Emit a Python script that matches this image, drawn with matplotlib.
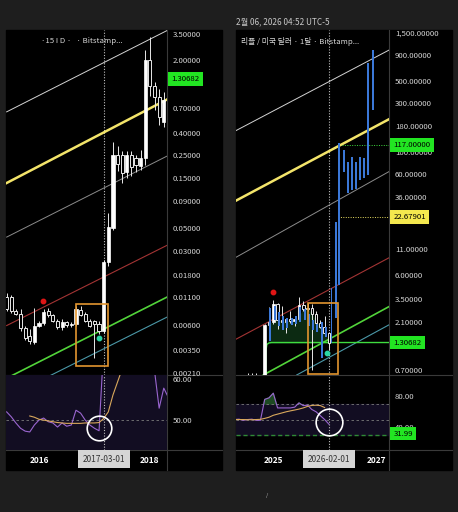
import numpy as np
import matplotlib
matplotlib.use("Agg")
import matplotlib.pyplot as plt
from matplotlib.patches import Rectangle
from matplotlib.transforms import blended_transform_factory as blend

plt.rcParams['font.family'] = ['Noto Sans CJK KR', 'DejaVu Sans']

# ---------------- left chart : monthly, months counted from 2016-01 ----------------
l_month = np.arange(-7, 28)
l_open = [.0112, .0110, .0082, .0077, .0056, .0047, .0041, .0059, .0063, .0082, .0074, .0066, .0057, .0064,
          .0060, .0061, .0084, .0077, .0066, .0065, .0062, .0053, .0236, .050, .246, .25, .17, .25, .23, .196,
          .23, 1.98, 1.12, .88, .51]
l_high = [.0120, .0115, .0086, .0086, .0059, .0055, .0088, .0066, .0086, .0088, .0077, .0068, .0068, .0066,
          .0064, .0090, .0090, .0079, .0068, .0067, .0066, .0250, .069, .33, .30, .27, .27, .27, .25, .275,
          2.46, 3.28, 1.23, 1.06, .98]
l_low = [.0082, .0078, .0074, .0053, .0043, .0040, .0040, .0057, .0060, .0071, .0064, .0055, .0054, .0058,
         .0058, .0059, .0073, .0064, .0057, .0029, .0049, .0050, .0220, .048, .175, .135, .15, .155, .17, .18,
         .20, .90, .66, .48, .46]
l_close = [.0085, .0082, .0077, .0056, .0045, .0042, .0059, .0063, .0079, .0074, .0066, .0057, .0064, .0060,
           .0062, .0086, .0075, .0066, .0059, .0062, .0053, .0236, .0508, .2465, .205, .168, .25, .19, .20, .23,
           1.98, 1.12, .88, .57, .82]

l_rsi_month = np.arange(-7, 29)
l_rsi = [52.0, 50.8, 49.3, 48.0, 47.3, 47.1, 48.8, 50.0, 50.5, 49.6, 49.3, 48.3, 49.3, 48.5, 48.8, 52.4, 51.7,
         50.0, 48.8, 48.0, 47.4, 68, 80, 92, 88, 85, 86, 84, 83, 85, 95, 85, 62, 52.9, 57.8, 55.5]
l_ma_month = np.arange(-2, 19)
l_ma = [51.0, 50.7, 50.2, 50.0, 49.8, 49.6, 49.4, 49.3, 49.2, 49.2, 49.2, 49.2, 49.3, 49.3, 49.3, 49.4, 50.4,
        52.0, 56.1, 59.3, 62.5]

l_ticks = [3.5, 2.0, 1.2, 0.7, 0.4, 0.25, 0.15, 0.09, 0.05, 0.03, 0.018, 0.011, 0.006, 0.0035, 0.0021]
l_last = 1.30682

# channel lines: months, values
l_lines = [([-7, 27.63], [0.637, 3.76], '#d4d4d4', 0.7),
           ([-7, 27.63], [0.1343, 0.832], '#f3e46a', 1.8),
           ([-7, 27.63], [0.0411, 0.241], '#8c8c8c', 0.7),
           ([-7, 27.63], [0.00593, 0.0342], '#a33434', 0.8),
           ([-5.91, 27.63], [0.00198, 0.01102], '#52d43a', 1.2),
           ([2.38, 27.63], [0.00198, 0.00711], '#4b98a8', 0.8)]
l_box = ([8.0, 15.0], [0.002465, 0.00953])
l_red_dot = (0.93, 0.0101)
l_teal_dot = (13.05, 0.00452)
l_circle = (13.05, 48.1)

# ---------------- right chart : months counted from 2025-01 ----------------
r_month = np.arange(-9, 14)
r_open = [.62, .50, .51, .47, .61, .56, .61, .50, 1.95, 2.08, 3.11, 2.20, 2.08, 2.21, 2.14, 2.24, 3.05, 2.78,
          2.85, 2.50, 2.05, 1.85, 1.62]
r_high = [.64, .58, .53, .66, .65, .66, .62, 1.98, 2.90, 3.40, 3.20, 3.00, 2.30, 2.65, 2.33, 3.66, 3.33, 3.18,
          3.10, 2.70, 2.20, 2.40, 1.65]
r_low = [.42, .48, .43, .38, .43, .53, .50, .49, 1.90, 2.00, 1.77, 1.90, 1.61, 2.05, 1.90, 2.24, 2.70, 2.70,
         .70, 1.80, 1.80, 1.60, 1.10]
r_close = [.50, .51, .47, .61, .56, .61, .50, 1.95, 2.08, 3.11, 2.20, 2.08, 2.21, 2.14, 2.24, 3.05, 2.78, 2.85,
           2.50, 2.05, 1.85, 1.62, 1.30682]

# copied bars (bars pattern), month, low, high
r_blue_month = [-0.7, 0.3, 1.3, 2.3, 3.3, 4.3, 5.3, 6.3, 7.3, 8.3, 9.3, 10.3, 11.45, 12.4,
                13.6, 14.6, 15.4, 16.6, 17.5, 18.3, 19.3, 20.3, 21.2, 22.2, 23.2]
r_blue_low = [1.35, 2.2, 1.9, 1.75, 1.8, 1.95, 2.0, 2.1, 2.2, 1.9, 1.75, 1.65, 0.92, 1.49,
              1.30, 2.28, 4.83, 63.3, 39.0, 41.8, 43.0, 52.4, 54.9, 58.7, 256]
r_blue_high = [2.85, 3.0, 2.6, 2.4, 2.3, 2.3, 2.4, 2.9, 2.8, 2.5, 2.2, 2.0, 2.08, 1.88,
               4.5, 20.3, 121, 103.6, 79.5, 89, 79.5, 89, 86.4, 747, 1003]

r_rsi_month = np.arange(-9, 14)
r_rsi = [50, 50.5, 49, 50, 50.5, 49, 49, 76, 78, 84, 65, 65, 65, 65, 66, 71.5, 68, 68.5, 63, 60, 55, 50, 44]
r_ma_month = np.arange(-9, 13)
r_ma = [50, 50, 50, 49.8, 49.8, 50, 50.3, 51.5, 53, 55.5, 57, 58.5, 60, 61.2, 62.3, 63.5, 65, 67, 68.2, 68.5,
        68, 65.5]

r_ticks = [1500, 900, 500, 300, 180, 100, 60, 36, 11, 6, 3.5, 2.1, 1.2, 0.7]
r_last = 1.30682
r_target = 117.0
r_level = 22.67901
r_rsi_level = 31.99

r_lines = [([-8.7, 27.0], [161, 1000], '#d4d4d4', 0.7),
           ([-8.7, 27.0], [32.8, 208], '#f3e46a', 1.8),
           ([-8.7, 27.0], [9.06, 63.3], '#8c8c8c', 0.7),
           ([-8.7, 27.0], [1.41, 8.94], '#a33434', 0.8),
           ([-2.34, 27.0], [0.625, 2.95], '#52d43a', 1.2),
           ([5.47, 27.0], [0.625, 1.95], '#4b98a8', 0.8)]
r_step_month = [-1.75, -1.7, -1.5, -1.0, -0.4, 27.1]
r_step = [0.6, 1.1, 1.25, 1.295, 1.30682, 1.30682]
r_box = ([8.0, 15.05], [0.64, 3.23])
r_red_dot = (0.0, 4.09)
r_teal_dot = (12.5, 1.04)
r_circle = (13.08, 47.2)

# ---------------- figure ----------------
W, H = 458, 512
fig = plt.figure(figsize=(W / 100, H / 100), dpi=100)
fig.patch.set_facecolor('#1e1e1e')


def px_axes(x0, y0, x1, y1):
    return fig.add_axes([x0 / W, 1 - y1 / H, (x1 - x0) / W, (y1 - y0) / H])


bg = px_axes(0, 0, W, H)
bg.set_xlim(0, W)
bg.set_ylim(H, 0)
bg.axis('off')
sep = '#3a3a3a'
for x0, xs in [(6, 167), (236, 389)]:
    bg.add_patch(Rectangle((x0, 30), 216, 440, color='black'))
    bg.plot([xs, xs], [30, 470], color=sep, lw=0.8)
    bg.plot([x0, x0 + 216], [375, 375], color=sep, lw=0.8)
    bg.plot([x0, x0 + 216], [450, 450], color=sep, lw=0.8)

bg.text(236, 22, '2월 06, 2026 04:52 UTC-5', color='#c8c8c8', fontsize=5.9, va='center')
bg.text(41, 41, '·15 I D ·   · Bitstamp...', color='#d8d8d8', fontsize=5.6, va='center')
bg.text(241, 41.5, '리플 / 미국 달러 · 1달 · Bitstamp...', color='#d8d8d8', fontsize=5.6, va='center')
bg.text(266, 495, '/', color='#bbbbbb', fontsize=4, va='center')

tick_col = '#d6d6d6'


def style(ax):
    ax.set_facecolor('none')
    for s in ax.spines.values():
        s.set_visible(False)
    ax.yaxis.tick_right()
    ax.tick_params(axis='y', length=0, pad=4.3, labelsize=5.6, labelcolor=tick_col)
    ax.tick_params(axis='x', length=0, pad=4.5, labelsize=6, labelcolor='white')


def candles(ax, m, o, h, l, c, w):
    o, h, l, c = map(np.array, (o, h, l, c))
    up = c >= o
    ax.vlines(m, l, h, color='#e8e8e8', lw=0.7, zorder=3)
    lo = np.minimum(o, c)
    hi = np.maximum(o, c)
    ax.bar(m[up], hi[up] - lo[up], bottom=lo[up], width=w, color='white', edgecolor='white', lw=0.5, zorder=4)
    ax.bar(m[~up], hi[~up] - lo[~up], bottom=lo[~up], width=w, color='black', edgecolor='#e8e8e8', lw=0.7,
           zorder=4)


def price_label(ax, v, txt, fc):
    ax.annotate(txt, xy=(1, v), xycoords=blend(ax.transAxes, ax.transData), xytext=(3.2, 0),
                textcoords='offset points', ha='left', va='center', fontsize=5.6, color='black', zorder=6,
                annotation_clip=False, bbox=dict(boxstyle='square,pad=0.38', fc=fc, ec='none'))


def date_label(ax, m, txt):
    ax.text(m, -0.125, txt, transform=blend(ax.transData, ax.transAxes), ha='center', va='center',
            fontsize=6.0, color='#333333', zorder=6,
            bbox=dict(boxstyle='square,pad=0.55', fc='#d5d5d5', ec='none'))


# ---- left price ----
ax1 = px_axes(6, 30, 167, 375)
style(ax1)
ax1.set_yscale('log')
ax1.set_xlim(-7.14, 27.7)
ax1.set_ylim(0.00201, 3.82)
ax1.set_yticks(l_ticks)
ax1.set_yticklabels([f'{t:.5f}' for t in l_ticks])
ax1.yaxis.set_minor_locator(matplotlib.ticker.NullLocator())
ax1.set_xticks([])
for xs, ys, col, lw in l_lines:
    ax1.plot(xs, ys, color=col, lw=lw, zorder=2)
candles(ax1, l_month, l_open, l_high, l_low, l_close, 0.68)
ax1.add_patch(Rectangle((l_box[0][0], l_box[1][0]), l_box[0][1] - l_box[0][0], l_box[1][1] - l_box[1][0],
                        fill=False, ec='#e3952f', lw=1.2, zorder=5))
ax1.plot(*l_red_dot, 'o', color='#e01515', ms=3.2, zorder=6)
ax1.plot(*l_teal_dot, 'o', color='#2ad6a4', ms=3.2, zorder=6)
ax1.axvline(14, color='#c0c0c0', ls=(0, (1, 1.5)), lw=0.8, zorder=1)
price_label(ax1, l_last, f'{l_last:.5f}', '#22e522')

# ---- left rsi ----
ax2 = px_axes(6, 375, 167, 450)
style(ax2)
ax2.set_xlim(-7.14, 27.7)
ax2.set_ylim(42.7, 61)
ax2.axhspan(30, 70, color='#120d22', zorder=0)
ax2.axhline(50, color='#7a7a7a', ls=(0, (3, 3)), lw=0.6)
ax2.plot(l_rsi_month, l_rsi, color='#9a66d0', lw=0.8, zorder=3)
ax2.plot(l_ma_month, l_ma, color='#d9a85c', lw=0.8, zorder=3)
ax2.plot(*l_circle, 'o', ms=17.7, mfc='none', mec='white', mew=1.2, zorder=5, clip_on=False)
ax2.axvline(14, color='#c0c0c0', ls=(0, (1, 1.5)), lw=0.8, zorder=1)
ax2.set_yticks([50, 60])
ax2.set_yticklabels(['50.00', '60.00'])
ax2.set_xticks([0, 24])
ax2.set_xticklabels(['2016', '2018'], fontweight='bold')
date_label(ax2, 14, '2017-03-01')

# ---- right price ----
ax3 = px_axes(236, 30, 389, 375)
style(ax3)
ax3.set_yscale('log')
ax3.set_xlim(-8.71, 27.03)
ax3.set_ylim(0.625, 1580)
ax3.set_yticks(r_ticks)
ax3.set_yticklabels([f'{t:,.5f}' for t in r_ticks])
ax3.yaxis.set_minor_locator(matplotlib.ticker.NullLocator())
ax3.set_xticks([])
for xs, ys, col, lw in r_lines:
    ax3.plot(xs, ys, color=col, lw=lw, zorder=2)
ax3.plot(r_step_month, r_step, color='#3fdc3f', lw=1.0, zorder=2)
body_low = np.minimum(r_open, r_close)
ax3.fill_between(r_month[8:], r_last, body_low[8:], color='#0c2a12', zorder=1)
candles(ax3, r_month, r_open, r_high, r_low, r_close, 0.6)
ax3.bar(r_blue_month, np.array(r_blue_high) - np.array(r_blue_low), bottom=r_blue_low, width=0.45,
        color='#3b78d8', zorder=4)
ax3.add_patch(Rectangle((r_box[0][0], r_box[1][0]), r_box[0][1] - r_box[0][0], r_box[1][1] - r_box[1][0],
                        fill=False, ec='#e3952f', lw=1.2, zorder=5))
ax3.plot(*r_red_dot, 'o', color='#e01515', ms=3.2, zorder=6)
ax3.plot(*r_teal_dot, 'o', color='#2ad6a4', ms=3.2, zorder=6)
ax3.plot([16, 27.03], [r_target, r_target], color='#3fdc3f', ls=(0, (1, 1.5)), lw=0.7, zorder=2)
ax3.plot([15, 27.03], [r_level, r_level], color='#e8dc60', ls=(0, (1, 1.5)), lw=0.7, zorder=2)
ax3.axvline(13, color='#c0c0c0', ls=(0, (1, 1.5)), lw=0.8, zorder=1)
price_label(ax3, r_target, f'{r_target:.5f}', '#22e522')
price_label(ax3, r_level, f'{r_level:.5f}', '#f4e84e')
price_label(ax3, r_last, f'{r_last:.5f}', '#22e522')

# ---- right rsi ----
ax4 = px_axes(236, 375, 389, 450)
style(ax4)
ax4.set_xlim(-8.71, 27.03)
ax4.set_ylim(10.7, 107.5)
ax4.axhspan(30, 70, color='#120d22', zorder=0)
ax4.axhline(70, color='#7a7a7a', ls=(0, (3, 3)), lw=0.6)
ax4.axhline(50, color='#7a7a7a', ls=(0, (3, 3)), lw=0.6)
ax4.axhline(30, color='#2f8a35', ls=(0, (3, 2)), lw=1.0)
rsi = np.array(r_rsi)
ax4.fill_between(r_rsi_month, 70, rsi, where=rsi > 70, interpolate=True, color='#1d4a22', zorder=1)
ax4.plot(r_rsi_month, r_rsi, color='#9a66d0', lw=0.8, zorder=3)
ax4.plot(r_ma_month, r_ma, color='#d9a85c', lw=0.8, zorder=3)
ax4.plot(*r_circle, 'o', ms=19.2, mfc='none', mec='white', mew=1.2, zorder=5, clip_on=False)
ax4.axvline(13, color='#c0c0c0', ls=(0, (1, 1.5)), lw=0.8, zorder=1)
ax4.set_yticks([40, 80])
ax4.set_yticklabels(['40.00', '80.00'])
ax4.set_xticks([0, 24])
ax4.set_xticklabels(['2025', '2027'], fontweight='bold')
date_label(ax4, 13, '2026-02-01')
price_label(ax4, r_rsi_level, f'{r_rsi_level:.2f}', '#22e522')

fig.savefig('out.png', dpi=100, facecolor=fig.get_facecolor())
